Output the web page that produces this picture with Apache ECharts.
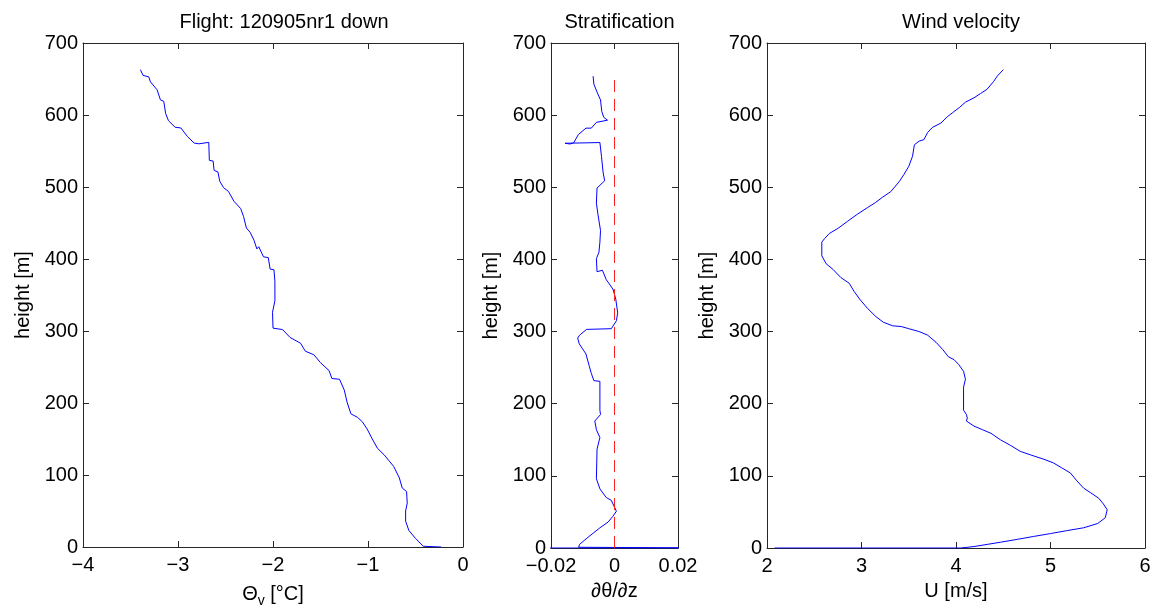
<!DOCTYPE html>
<html><head><meta charset="utf-8">
<script src="https://cdn.jsdelivr.net/npm/echarts@6/dist/echarts.min.js"></script>
<style>html,body{margin:0;padding:0;background:#fff}#c{width:1158px;height:613px}</style>
</head><body><div id="c"></div>
<script>
// ---- data ----
const heightTicks = [0, 100, 200, 300, 400, 500, 600, 700];
const thetaTicks = [-4, -3, -2, -1, 0];
const stratTicks = [-0.02, 0, 0.02];
const windTicks = [2, 3, 4, 5, 6];

// Panel 1: virtual potential temperature
const thetaX = [-3.396,-3.368,-3.308,-3.29,-3.22,-3.185,-3.15,-3.13,-3.10,-3.03,-2.97,-2.90,-2.83,-2.78,-2.676,-2.67,-2.63,-2.62,-2.58,-2.56,-2.52,-2.47,-2.41,-2.34,-2.31,-2.28,-2.24,-2.20,-2.17,-2.15,-2.10,-2.05,-2.03,-1.99,-1.98,-1.98,-2.005,-2.00,-1.90,-1.82,-1.71,-1.66,-1.57,-1.50,-1.41,-1.38,-1.30,-1.25,-1.22,-1.18,-1.11,-1.06,-1.01,-0.955,-0.90,-0.83,-0.78,-0.73,-0.67,-0.64,-0.594,-0.587,-0.604,-0.604,-0.57,-0.50,-0.418,-0.23];
const thetaH = [663,655,653,646,635,621,619,602,592,583,582,570,561,560,562,537,536,523,521,508,499,494,480,470,459,443,437,426,414,417,403,402,386,385,369,342,326,304,302,291,283,272,267,256,245,234,233,218,201,185,180,174,164,150,137,128,120,112,96,82,77,61,50,36,23,12,1,0];

// Panel 2: stratification
const stratX = [-0.00674,-0.0065,-0.0055,-0.0044,-0.0040,-0.0034,-0.0022,-0.0057,-0.0073,-0.009,-0.0114,-0.0128,-0.014,-0.0156,-0.0046,-0.0041,-0.0036,-0.0031,-0.0055,-0.0057,-0.0052,-0.0044,-0.0046,-0.0049,-0.0057,-0.0055,-0.0038,-0.0026,-0.0005,0.0004,0.001,0.0006,-0.001,-0.0088,-0.011,-0.0116,-0.0111,-0.009,-0.008,-0.0073,-0.0065,-0.0046,-0.0046,-0.0044,-0.0062,-0.0065,-0.0057,-0.0046,-0.0055,-0.0057,-0.0046,-0.0026,-0.001,0.0006,-0.0005,-0.002,-0.0046,-0.0083,-0.011,-0.0113,0.03,-0.03];
const stratH = [654,643,632,621,605,597,593,590,582,582,573,562,560,561,562,543,521,509,499,478,462,440,424,410,401,383,385,372,359,345,326,315,304,303,295,291,283,269,253,242,232,231,191,185,176,174,164,153,137,96,82,70,66,51,44,36,28,15,5,1,0,0];
const zeroLineX = [0, 0];
const zeroLineH = [0, 655];

// Panel 3: wind velocity
const windX = [4.50,4.436,4.40,4.33,4.26,4.19,4.10,4.04,3.96,3.91,3.84,3.75,3.70,3.66,3.61,3.56,3.54,3.50,3.45,3.40,3.31,3.22,3.15,3.065,2.96,2.854,2.75,2.66,2.61,2.58,2.58,2.626,2.70,2.78,2.87,2.92,2.98,3.065,3.15,3.23,3.33,3.42,3.50,3.61,3.70,3.79,3.86,3.92,3.98,4.03,4.08,4.10,4.08,4.08,4.11,4.12,4.11,4.19,4.28,4.37,4.47,4.58,4.68,4.79,4.93,5.03,5.12,5.21,5.28,5.35,5.42,5.51,5.56,5.60,5.58,5.50,5.35,5.17,5.00,4.82,4.65,4.47,4.33,4.19,4.05,2.08];
const windH = [663,654,647,636,630,624,618,611,603,598,589,583,576,566,564,559,543,529,518,508,494,486,479,472,463,453,443,436,429,424,405,394,386,375,367,356,345,332,321,313,308,307,304,300,295,285,275,265,261,254,245,234,223,191,185,180,176,169,164,159,150,142,134,129,123,118,111,104,93,83,77,69,61,53,42,34,28,24,20,16,12,8,5,2,0,0];

const titles = ['Flight: 120905nr1 down', 'Stratification', 'Wind velocity'];

// ---- chart ----
const zip = (xs, hs) => xs.map((x, i) => [x, hs[i]]);
const fmtNum = v => (v < 0 ? '\u2212' + String(-v) : String(v));
const AX = '#262626';
const FS = 20;
const FF = 'Liberation Sans';
const grids = [
  {left: 83, top: 43, width: 380, height: 505},
  {left: 551, top: 43, width: 127, height: 505},
  {left: 767, top: 43, width: 378, height: 505}
];
const xDefs = [
  {ticks: thetaTicks, name: '{t|\u0398}{s|v}{t| [\u00b0C]}'},
  {ticks: stratTicks, name: '\u2202\u03b8/\u2202z'},
  {ticks: windTicks, name: 'U [m/s]'}
];
const xAxis = [], yAxis = [];
xDefs.forEach((d, gi) => {
  const min = d.ticks[0], max = d.ticks[d.ticks.length - 1];
  const interval = d.ticks[1] - d.ticks[0];
  const base = {gridIndex: gi, type: 'value', min, max, interval,
    splitLine: {show: false},
    axisLine: {show: true, onZero: false, lineStyle: {color: AX, width: 1}},
    axisTick: {show: true, inside: true, length: 6, lineStyle: {color: AX}}};
  xAxis.push(Object.assign({}, base, {position: 'bottom',
    axisLabel: {show: true, formatter: fmtNum, fontSize: FS, color: '#000', margin: 8, fontFamily: FF, showMinLabel: true, showMaxLabel: true},
    name: d.name, nameLocation: 'middle', nameGap: 33,
    nameTextStyle: {fontSize: FS, color: '#000', fontFamily: FF,
      rich: {t: {fontSize: FS, color: '#000', fontFamily: FF},
             s: {fontSize: 14, color: '#000', fontFamily: FF, padding: [14, 0, 0, 0]}}}}));
  xAxis.push(Object.assign({}, base, {position: 'top', axisLabel: {show: false}}));
  const ybase = {gridIndex: gi, type: 'value', min: heightTicks[0], max: heightTicks[heightTicks.length - 1],
    interval: heightTicks[1] - heightTicks[0], splitLine: {show: false},
    axisLine: {show: true, onZero: false, lineStyle: {color: AX, width: 1}},
    axisTick: {show: true, inside: true, length: 6, lineStyle: {color: AX}}};
  yAxis.push(Object.assign({}, ybase, {position: 'left',
    axisLabel: {show: true, fontSize: FS, color: '#000', margin: 5, fontFamily: FF, showMinLabel: true, showMaxLabel: true},
    name: 'height [m]', nameLocation: 'middle', nameGap: 50, nameRotate: 90,
    nameTextStyle: {fontSize: FS, color: '#000', fontFamily: FF}}));
  yAxis.push(Object.assign({}, ybase, {position: 'right', axisLabel: {show: false}}));
});

const lineSeries = (gi, data, color, dashed) => ({
  type: 'line', xAxisIndex: gi * 2, yAxisIndex: gi * 2, data,
  showSymbol: false, symbol: 'none', clip: true, animation: false, silent: true,
  lineStyle: {color, width: 1, type: dashed ? [12, 7] : 'solid'}
});

const option = {
  backgroundColor: '#fff',
  animation: false,
  title: titles.map((t, i) => ({text: t, left: grids[i].left + grids[i].width / 2 + (i === 0 ? 6 : 0), top: 7, textAlign: 'center',
    textStyle: {fontSize: FS, fontWeight: 'normal', color: '#000', fontFamily: FF}})),
  grid: grids,
  xAxis, yAxis,
  series: [
    lineSeries(0, zip(thetaX, thetaH), '#0000ff'),
    lineSeries(1, zip(stratX, stratH), '#0000ff'),
    lineSeries(1, zip(zeroLineX, zeroLineH), '#ff2020', true),
    lineSeries(2, zip(windX, windH), '#0000ff')
  ]
};
const chart = echarts.init(document.getElementById('c'), null, {renderer: 'canvas'});
chart.setOption(option);
</script></body></html>
